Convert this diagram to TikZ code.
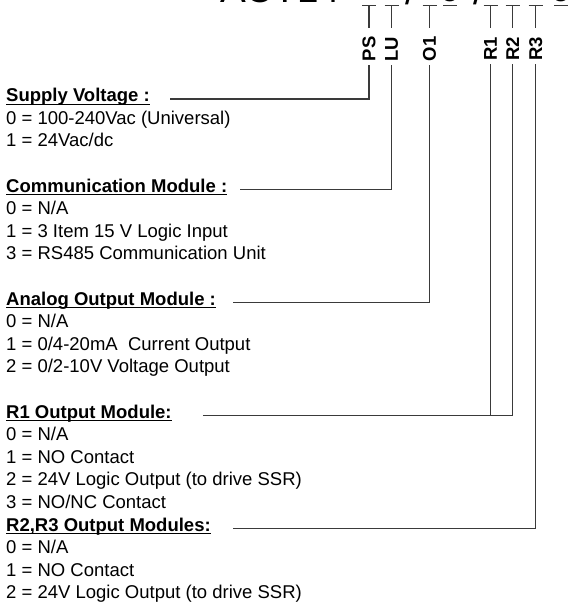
\documentclass[tikz,border=0pt]{standalone}
\usepackage{fontspec}
\setmainfont{Liberation Sans}
\usepackage{tikz}
\definecolor{linegray}{HTML}{3A3A3A}
\newsavebox{\headbox}
\newcommand{\uhead}[1]{\sbox\headbox{#1}\rlap{\rule[-3.2pt]{\wd\headbox}{1.2pt}}\usebox\headbox}
\tikzstyle{item} = [anchor=base west, inner sep=0pt, font=\fontsize{18.5}{22}\selectfont]
\tikzstyle{head} = [item, font=\fontsize{18.5}{22}\selectfont\bfseries]
\tikzstyle{code} = [rotate=90, font=\fontsize{18.5}{22}\selectfont\bfseries]
\tikzstyle{title} = [anchor=base, inner sep=0pt, font=\fontsize{38.6}{40}\selectfont]
\tikzstyle{wire} = [draw=linegray, line width=1.2pt]

\begin{document}
\begin{tikzpicture}[x=1pt,y=-1pt]
            \useasboundingbox (0,0) rectangle (569,602);
            \clip (0,0) rectangle (569,602);

            \node[title, anchor=base west] (act) at (220,3) {ACT14};
            \node[title] (slash1) at (411,5) {/};
            \node[title] (zero1) at (450,2) {0};
            \node[title] (slash2) at (479,5) {/};
            \node[title] (zero2) at (561,2) {0};
            \foreach \x in {369,391.7,429.5,450,490.5,512.7,535.7,561}
                \draw[wire] (\x-7,5.7) -- (\x+7,5.7);
            \foreach \x in {369,391.7,429.5,490.5,512.7,535.7}
                \draw[wire] (\x,5.7) -- (\x,28);

            \node[code] (ps) at (369,49) {PS};
            \node[code] (lu) at (391.7,49) {LU};
            \node[code] (oone) at (429.5,49) {O1};
            \node[code] (rone) at (490.5,49) {R1};
            \node[code] (rtwo) at (512.7,49) {R2};
            \node[code] (rthree) at (535.7,49) {R3};

            \node[head] (sup) at (6,101.6) {\uhead{Supply Voltage :}};
            \node[item] (sup0) at (6,124.2) {0 = 100-240Vac (Universal)};
            \node[item] (sup1) at (6,146.8) {1 = 24Vac/dc};

            \node[head] (com) at (6,192.0) {\uhead{Communication Module :}};
            \node[item] (com0) at (6,214.6) {0 = N/A};
            \node[item] (com1) at (6,237.2) {1 = 3 Item 15 V Logic Input};
            \node[item] (com3) at (6,259.8) {3 = RS485 Communication Unit};

            \node[head] (ana) at (6,305.0) {\uhead{Analog Output Module :}};
            \node[item] (ana0) at (6,327.6) {0 = N/A};
            \node[item] (ana1) at (6,350.2) {1 = 0/4-20mA\ \ Current Output};
            \node[item] (ana2) at (6,372.8) {2 = 0/2-10V Voltage Output};

            \node[head] (rmod) at (6,418.0) {\uhead{R1 Output Module:}};
            \node[item] (rmod0) at (6,440.6) {0 = N/A};
            \node[item] (rmod1) at (6,463.2) {1 = NO Contact};
            \node[item] (rmod2) at (6,485.8) {2 = 24V Logic Output (to drive SSR)};
            \node[item] (rmod3) at (6,508.4) {3 = NO/NC Contact};

            \node[head] (rrmod) at (6,531.0) {\uhead{R2,R3 Output Modules:}};
            \node[item] (rrmod0) at (6,553.6) {0 = N/A};
            \node[item] (rrmod1) at (6,576.2) {1 = NO Contact};
            \node[item] (rrmod2) at (6,598.8) {2 = 24V Logic Output (to drive SSR)};

            \coordinate (sup-end) at ([xshift=20.5pt]sup.mid east);
            \coordinate (com-end) at ([xshift=13pt]com.mid east);
            \coordinate (ana-end) at ([xshift=17pt]ana.mid east);
            \coordinate (rmod-end) at ([xshift=31pt]rmod.mid east);
            \coordinate (rrmod-end) at ([xshift=22.5pt]rrmod.mid east);

            \draw[wire] (sup-end) -| (ps.west);
            \draw[wire] (com-end) -| (lu.west);
            \draw[wire] (ana-end) -| (oone.west);
            \draw[wire] (rmod-end) -| (rtwo.west);
            \draw[wire] (rone.west) -- (rone.west |- rmod-end);
            \draw[wire] (rrmod-end) -| (rthree.west);
        \end{tikzpicture}
\end{document}
